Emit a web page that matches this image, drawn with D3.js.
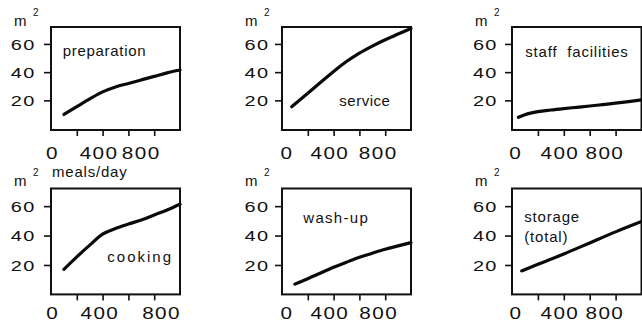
<!DOCTYPE html>
<html>
<head>
<meta charset="utf-8">
<script src="https://cdn.jsdelivr.net/npm/d3@7"></script>
<style>
  html, body { margin: 0; padding: 0; background: #fff; }
  svg { display: block; }
  text { font-family: "Liberation Sans", Arial, Helvetica, sans-serif; fill: #111; }
</style>
</head>
<body>
<svg id="chart" width="642" height="321"></svg>
<script>
// ---- data (m² of floor area vs meals/day) ----
const prepMeals    = [100, 200, 300, 400, 500, 600, 700, 800, 900, 1000];
const prepArea     = [10, 15.5, 21, 26, 29.5, 32, 34.5, 37, 39.5, 41.5];
const serviceMeals = [75, 200, 300, 400, 500, 600, 700, 800, 900, 1000];
const serviceArea  = [15.5, 25, 32.8, 40.5, 47.5, 53.5, 58.5, 63, 67, 71];
const staffMeals   = [50, 100, 200, 300, 400, 500, 600, 700, 800, 900, 1000];
const staffArea    = [8, 9.8, 12, 13.2, 14.2, 15.1, 16, 17, 18, 19.1, 20.3];
const cookingMeals = [100, 200, 300, 400, 500, 600, 700, 800, 900, 1000];
const cookingArea  = [17, 25.5, 33.5, 41, 44.8, 47.8, 50.6, 54, 57.4, 61.3];
const washMeals    = [100, 200, 300, 400, 500, 600, 700, 800, 900, 1000];
const washArea     = [7, 10.7, 14.6, 18.4, 21.9, 25.2, 28, 30.7, 33, 35.2];
const storageMeals = [75, 200, 400, 600, 800, 1000];
const storageArea  = [16, 20.5, 27.5, 35, 42.5, 49.5];

const yTicks = [20, 40, 60];
const xTicks = [200, 400, 600, 800];
const xTickLabels = [0, 400, 800];
const xDomain = [0, 1000];

// ---- layout ----
const cols = [[51, 180], [282, 411], [512, 641.5]];
const rows = [
  { range: [130, 27], domain: [-1, 72], labelY: 159, unitY: 26 },
  { range: [294.4, 188.5], domain: [0, 72], labelY: 319, unitY: 186 }
];

const panels = [
  { meals: prepMeals, area: prepArea, col: 0, row: 0, lines: ["preparation"], lx: 11.7, ly: 56, ls: 0.7, xdx: [0.7, -4.3, -13.7], ygap: 16.7 },
  { meals: serviceMeals, area: serviceArea, col: 1, row: 0, lines: ["service"], lx: 57.3, ly: 106, ls: 0.5, xdx: [4.3, -4.4, -7.7], ygap: 14 },
  { meals: staffMeals, area: staffArea, col: 2, row: 0, lines: ["staff  facilities"], lx: 13.3, ly: 56.7, ls: 0.8, xdx: [3, -4.6, -11.4], ygap: 15.6 },
  { meals: cookingMeals, area: cookingArea, col: 0, row: 1, lines: ["cooking"], lx: 56.3, ly: 261.7, ls: 2, xdx: [1, -3.4, 6.6], ygap: 16.7 },
  { meals: washMeals, area: washArea, col: 1, row: 1, lines: ["wash-up"], lx: 21.3, ly: 223.3, ls: 1.3, xdx: [4.3, -4.4, -7.2], ygap: 14 },
  { meals: storageMeals, area: storageArea, col: 2, row: 1, lines: ["storage", "(total)"], lx: 12.3, ly: 221.7, ls: 0.8, xdx: [3.3, -4.6, -11.4], ygap: 15.6 }
];

const svg = d3.select("#chart");

// wide (horizontally stretched) digit labels like the original lettering
function wideText(g, px, py, txt, size, sx, ls, anchor) {
  const comp = anchor === "end" ? ls : anchor === "middle" ? ls / 2 : 0;
  return g.append("text")
    .attr("transform", `translate(${px},${py}) scale(${sx},1)`)
    .attr("x", comp).attr("y", 0)
    .attr("text-anchor", anchor)
    .style("font-size", size + "px")
    .style("letter-spacing", ls + "px")
    .text(txt);
}

panels.forEach(p => {
  const [x0, x1] = cols[p.col];
  const r = rows[p.row];
  const x = d3.scaleLinear().domain(xDomain).range([x0, x1]);
  const y = d3.scaleLinear().domain(r.domain).range(r.range);
  const top = r.range[1], bottom = r.range[0];
  const g = svg.append("g");

  // frame
  g.append("rect")
    .attr("x", x0).attr("y", top)
    .attr("width", x1 - x0).attr("height", bottom - top)
    .attr("fill", "none").attr("stroke", "#111").attr("stroke-width", 2);

  // y axis ticks
  const ya = g.append("g").attr("transform", `translate(${x0},0)`)
    .call(d3.axisLeft(y).tickValues(yTicks).tickSize(7).tickFormat(""));
  ya.select(".domain").remove();
  ya.selectAll(".tick line").attr("stroke", "#111").attr("stroke-width", 1.6);
  yTicks.forEach(v => {
    wideText(g, x0 - p.ygap, y(v) + 5.6, v, 15, 1.33, 1, "end");
  });

  // x axis ticks
  const xa = g.append("g").attr("transform", `translate(0,${bottom})`)
    .call(d3.axisBottom(x).tickValues(xTicks).tickSize(6).tickFormat(""));
  xa.select(".domain").remove();
  xa.selectAll(".tick line").attr("stroke", "#111").attr("stroke-width", 1.6);

  // x tick labels
  xTickLabels.forEach((v, i) => {
    wideText(g, x(v) + p.xdx[i], r.labelY, v, 16.3, 1.27, 1.1, "middle");
  });

  // unit label m²
  g.append("text").attr("x", x0 - 37).attr("y", r.unitY)
    .style("font-size", "15px").text("m");
  g.append("text").attr("x", x0 - 18).attr("y", r.unitY - 10)
    .style("font-size", "10px").text("2");

  // curve
  const pts = p.meals.map((m, i) => [m, p.area[i]]);
  g.append("path")
    .datum(pts)
    .attr("fill", "none").attr("stroke", "#0a0a0a").attr("stroke-width", 3.2)
    .attr("stroke-linecap", "round")
    .attr("d", d3.line().x(d => x(d[0])).y(d => y(d[1])).curve(d3.curveMonotoneX));

  // panel label
  p.lines.forEach((t, i) => {
    g.append("text")
      .attr("x", x0 + p.lx).attr("y", p.ly + i * 20)
      .style("font-size", "15px").style("letter-spacing", p.ls + "px")
      .style("white-space", "pre")
      .text(t);
  });
});

// x axis title
svg.append("text").attr("x", 52).attr("y", 177)
  .style("font-size", "15px").style("letter-spacing", "0.8px")
  .text("meals/day");
</script>
</body>
</html>
